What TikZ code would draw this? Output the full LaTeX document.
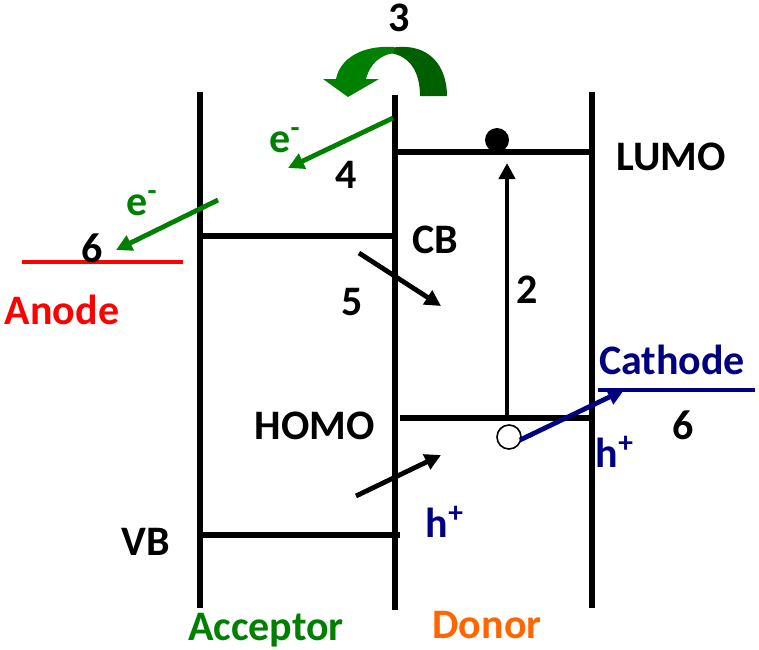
\documentclass[tikz,border=0pt]{standalone}
\usepackage{fontspec}
\setmainfont{Carlito}
\usetikzlibrary{arrows.meta}
\definecolor{leaf}       {HTML}{008000}
\definecolor{leafdark}   {HTML}{006000}
\definecolor{navy}       {HTML}{000080}
\definecolor{anodered}   {HTML}{FF0000}
\definecolor{donororange}{HTML}{FF6600}
\tikzset{
  % --- text
  lbl/.style   = {font=\fontsize{21}{25}\selectfont\bfseries, inner sep=0pt},
  % --- lines
  wall/.style  = {line width=2.7pt, draw=black},
  level/.style = {line width=2.6pt, draw=black},
  electrode/.style = {line width=1.6pt},
  flow/.style  = {-{Triangle[length=8pt,width=8pt]}, line width=2.4pt},
  carrier/.style = {circle, draw=black, line width=0.8pt, minimum size=12pt, inner sep=0pt},
}

\begin{document}
\begin{tikzpicture}[x=0.5pt,y=-0.5pt]
  \useasboundingbox (0,0) rectangle (759,649);

  % --- the three walls
  \coordinate (acctop) at (200,92);  \coordinate (accbot) at (200,608);
  \coordinate (midtop) at (395,95);  \coordinate (midbot) at (395,610);
  \coordinate (dontop) at (592,92);  \coordinate (donbot) at (592,608);
  \draw[wall] (acctop) -- (accbot);
  \draw[wall] (midtop) -- (midbot);
  \draw[wall] (dontop) -- (donbot);

  % --- energy levels
  \coordinate (lumoL) at (396,152); \coordinate (lumoR) at (591,152);
  \coordinate (cbL)   at (201,236); \coordinate (cbR)   at (394,236);
  \coordinate (homoL) at (400,418); \coordinate (homoR) at (591,418);
  \coordinate (vbL)   at (201,535); \coordinate (vbR)   at (400,535);
  \draw[level] (lumoL) -- (lumoR);
  \draw[level] (cbL) -- (cbR);
  \draw[level] (homoL) -- (homoR);
  \draw[level] (vbL) -- (vbR);
  \node[lbl] (lumo) at (671,157) {LUMO};
  \node[lbl] (cb)   at (435,240) {CB};
  \node[lbl] (homo) at (315,426) {HOMO};
  \node[lbl] (vb)   at (146,542) {VB};

  % --- electrodes
  \coordinate (anL) at (22,262);  \coordinate (anR) at (183,262);
  \coordinate (caL) at (598,390); \coordinate (caR) at (755,390);
  \draw[electrode, anodered] (anL) -- (anR);
  \draw[electrode, navy] (caL) -- (caR);
  \node[lbl, text=anodered] (anode)   at (62,310)  {Anode};
  \node[lbl, text=navy]     (cathode) at (672,360) {Cathode};

  % --- step 2: excitation
  \node[circle, fill=black, minimum size=12pt, inner sep=0pt] (elec) at (497,140) {};
  \node[carrier, fill=white] (hole) at (509,437) {};
  \coordinate (exA) at (507,415); \coordinate (exB) at (507,163);
  \draw[flow, line width=2pt] (exA) -- (exB);
  \node[lbl] (n2) at (527,290) {2};

  % --- step 3: curved transfer arrow
  \fill[leafdark] (390,48) .. controls (431,41) and (447,68) .. (447,96)
     -- (420,96) .. controls (420,72) and (410,56) .. (390,53) -- cycle;
  \fill[leaf] (394,47) .. controls (361,45) and (340,59) .. (336,79)
     -- (323,79) -- (348,97) -- (379,79) -- (366,79)
     .. controls (370,64) and (380,55) .. (394,53) -- cycle;
  \node[lbl] (n3) at (399,18) {3};

  % --- step 4 and 6: electron flow
  \coordinate (e4A) at (393,118); \coordinate (e4B) at (288,168);
  \draw[flow, leaf] (e4A) -- (e4B);
  \node[lbl, text=leaf] (e4) at (285,140) {e\textsuperscript{-}};
  \node[lbl] (n4) at (346,175) {4};
  \coordinate (e6A) at (218,200); \coordinate (e6B) at (116,250);
  \draw[flow, leaf] (e6A) -- (e6B);
  \node[lbl, text=leaf] (e6) at (142,203) {e\textsuperscript{-}};
  \node[lbl] (n6a) at (92,248) {6};

  % --- step 5
  \coordinate (r5A) at (359,253); \coordinate (r5B) at (441,306);
  \draw[flow] (r5A) -- (r5B);
  \node[lbl] (n5) at (352,302) {5};

  % --- hole flow
  \coordinate (h6A) at (520,440); \coordinate (h6B) at (624,390);
  \draw[flow, navy] (h6A) -- (h6B);
  \node[lbl, text=navy] (h6) at (615,452) {h\textsuperscript{+}};
  \node[lbl] (n6b) at (683,425) {6};
  \coordinate (hvA) at (356,496); \coordinate (hvB) at (441,455);
  \draw[flow] (hvA) -- (hvB);
  \node[lbl, text=navy] (hv) at (445,522) {h\textsuperscript{+}};

  % --- materials
  \node[lbl, text=leaf]        (acceptor) at (266,630) {Acceptor};
  \node[lbl, text=donororange] (donor)    at (487,625) {Donor};
\end{tikzpicture}
\end{document}
